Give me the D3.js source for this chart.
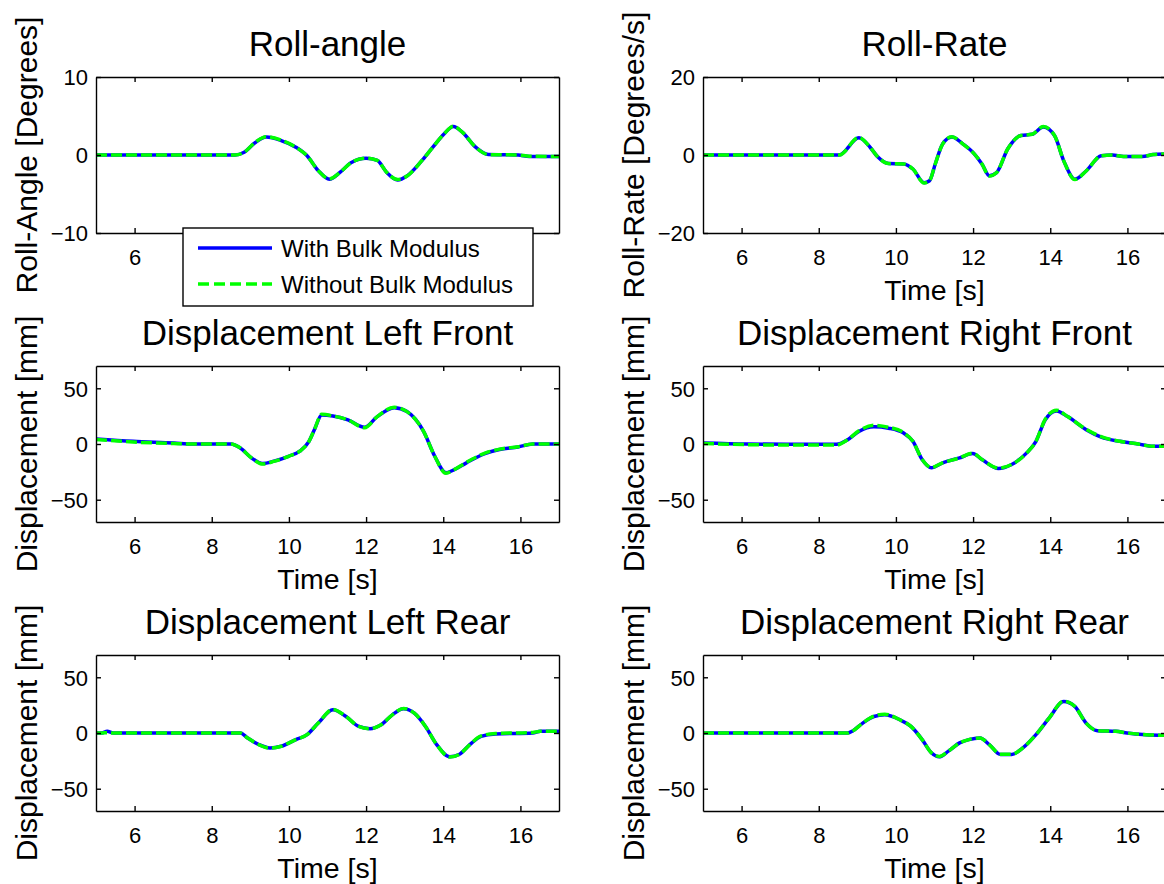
<!DOCTYPE html>
<html>
<head>
<meta charset="utf-8">
<script src="https://cdn.jsdelivr.net/npm/d3@7"></script>
<style>
  html, body { margin: 0; padding: 0; background: #fff; overflow: hidden; }
  text { font-family: "Liberation Sans", Arial, sans-serif; fill: #000; }
</style>
</head>
<body>
<svg id="fig" width="1164" height="884"></svg>
<script>
// ---- Time ticks (seconds) shared by every panel
const xTicks = [6, 8, 10, 12, 14, 16];
const xDomain = [5, 17];

// ---- Roll angle [deg]
const rollAngleTime    = [5, 8.6, 8.84, 9.13, 9.41, 9.8, 10.18, 10.47, 10.76, 11.05, 11.33, 11.62, 12.0, 12.29, 12.53, 12.82, 13.06, 13.45, 13.73, 14.02, 14.26, 14.5, 14.84, 15.17, 15.94, 16.23, 17];
const rollAngleWith    = [0, 0, 0.35, 1.6, 2.3, 1.85, 1.0, -0.1, -2.0, -3.1, -2.2, -0.95, -0.43, -0.7, -2.2, -3.2, -2.7, -0.7, 1.0, 2.7, 3.65, 2.9, 1.0, 0.05, 0, -0.2, -0.2];
const rollAngleWithout = [0, 0, 0.35, 1.65, 2.35, 1.9, 1.0, -0.1, -2.0, -3.05, -2.2, -0.95, -0.4, -0.7, -2.2, -3.15, -2.7, -0.7, 1.0, 2.7, 3.7, 2.9, 1.0, 0.05, 0, -0.15, -0.2];
const rollAngleTicks   = [-10, 0, 10];

// ---- Roll rate [deg/s]
const rollRateTime    = [5, 8.53, 9.04, 9.33, 9.52, 9.81, 10.2, 10.44, 10.73, 10.87, 11.02, 11.21, 11.45, 11.74, 12.03, 12.23, 12.42, 12.61, 12.9, 13.24, 13.53, 13.82, 14.11, 14.35, 14.64, 14.93, 15.32, 15.61, 15.9, 16.38, 16.67, 17];
const rollRateWith    = [0, 0, 4.4, 2.0, -0.4, -2.2, -2.3, -3.6, -7.1, -6.6, -2.3, 2.8, 4.6, 2.8, 0.3, -2.3, -5.3, -4.5, 1.6, 5.0, 5.3, 7.2, 5.0, -1.5, -6.2, -4.1, -0.2, 0, -0.4, -0.4, 0.1, 0.3];
const rollRateWithout = [0, 0, 4.5, 2.0, -0.4, -2.2, -2.3, -3.6, -7.2, -6.6, -2.3, 2.8, 4.7, 2.8, 0.3, -2.3, -5.4, -4.5, 1.6, 5.0, 5.3, 7.3, 5.0, -1.5, -6.3, -4.1, -0.2, 0, -0.4, -0.4, 0.1, 0.3];
const rollRateTicks   = [-20, 0, 20];

// ---- Suspension displacement [mm]
const dispTicks = [-50, 0, 50];

const leftFrontTime    = [5, 5.96, 7.02, 7.5, 8.5, 8.74, 9.03, 9.32, 9.61, 9.99, 10.28, 10.52, 10.66, 10.85, 11.14, 11.53, 11.96, 12.29, 12.73, 13.06, 13.49, 13.78, 14.07, 14.26, 14.6, 15.08, 15.46, 15.94, 16.32, 17];
const leftFrontWith    = [4.5, 2.4, 0.9, 0, 0, -3.6, -12.5, -17.5, -15.4, -11, -6.5, 2.4, 12.8, 26.1, 25.2, 21.7, 15.1, 24.6, 32.6, 29.1, 11.3, -11, -25.8, -23.4, -16.9, -8.6, -5, -2.7, 0, 0];
const leftFrontWithout = [4.0, 1.8, 0.4, 0, 0, -3.6, -12.5, -18.0, -15.6, -11, -6.5, 2.4, 12.8, 26.6, 25.2, 21.7, 14.6, 24.6, 33.0, 29.1, 11.3, -11, -26.3, -23.4, -16.4, -8.2, -4.6, -2.4, 0, 0];

const rightFrontTime    = [5, 6.14, 7.59, 8.46, 8.75, 9.04, 9.43, 9.81, 10.2, 10.44, 10.68, 10.92, 11.21, 11.65, 11.99, 12.23, 12.66, 13.0, 13.39, 13.63, 13.87, 14.16, 14.45, 14.93, 15.32, 15.8, 16.28, 16.67, 17];
const rightFrontWith    = [0.9, 0, -0.3, -0.3, 3.9, 11.3, 15.5, 14.2, 9.8, 2.4, -13.9, -21.4, -16.9, -12.5, -8.6, -13.9, -22, -18.4, -8, 2.4, 21.7, 29.7, 24.6, 12.8, 6.2, 2.4, 0, -2.1, -2.1];
const rightFrontWithout = [0.5, -0.6, -1.0, -1.0, 3.9, 11.8, 16.8, 15.0, 10.2, 2.4, -13.9, -21.0, -16.9, -12.5, -8.2, -13.9, -21.6, -18.4, -8, 2.4, 22.2, 30.4, 24.6, 13.2, 6.6, 2.4, 0, -2.1, -2.1];

const leftRearTime    = [5, 5.15, 5.29, 5.45, 8.74, 8.93, 9.22, 9.51, 9.8, 10.18, 10.47, 10.76, 11.14, 11.48, 11.81, 12.1, 12.39, 12.68, 12.97, 13.25, 13.54, 13.83, 14.17, 14.41, 14.69, 14.98, 15.36, 16.32, 16.52, 17];
const leftRearWith    = [0, 0, 1.5, 0, 0, -4.5, -10.4, -13.4, -11.9, -5.9, -1.5, 8.9, 20.8, 14.8, 5.9, 3.9, 7.4, 16.3, 21.7, 17.8, 5.9, -10.4, -21.4, -19.3, -10.4, -3, -0.9, 0, 1.5, 1.5];
const leftRearWithout = [0, 0, 0.3, 0, 0, -4.5, -10.4, -13.6, -11.9, -5.9, -1.5, 8.9, 21.2, 14.8, 5.9, 3.9, 7.4, 16.3, 22.0, 17.8, 5.9, -10.4, -21.6, -19.3, -10.4, -2.6, -0.5, 0.5, 1.5, 1.5];

const rightRearTime    = [5, 8.75, 8.89, 9.14, 9.43, 9.71, 10.1, 10.39, 10.68, 10.92, 11.12, 11.36, 11.65, 11.89, 12.18, 12.42, 12.71, 13.0, 13.29, 13.63, 13.97, 14.35, 14.64, 14.93, 15.22, 15.7, 15.99, 16.48, 17];
const rightRearWith    = [0, 0, 2.1, 8.9, 14.8, 16.3, 11.9, 5.9, -5.9, -17.8, -21.4, -16.3, -8.9, -5.9, -4.5, -10.4, -19.3, -19.3, -13.4, -1.5, 13.4, 28.2, 23.7, 8.9, 2.1, 1.5, 0, -1.5, -2.1];
const rightRearWithout = [0, 0, 2.1, 8.9, 15.2, 16.8, 11.9, 5.9, -5.9, -17.8, -21.0, -16.3, -8.9, -5.9, -4.5, -10.4, -19.0, -19.0, -13.4, -1.5, 13.4, 28.6, 23.7, 8.9, 2.1, 1.5, 0, -1.5, -2.1];

// ---- Labels
const seriesNames = ["With Bulk Modulus", "Without Bulk Modulus"];
const seriesColors = ["#0000ff", "#00ff00"];

const panels = [
  { title: "Roll-angle", yLabel: "Roll-Angle [Degrees]", yDomain: [-10, 10], yTicks: rollAngleTicks,
    time: rollAngleTime, with: rollAngleWith, without: rollAngleWithout, col: 0, row: 0 },
  { title: "Roll-Rate", yLabel: "Roll-Rate [Degrees/s]", yDomain: [-20, 20], yTicks: rollRateTicks,
    time: rollRateTime, with: rollRateWith, without: rollRateWithout, col: 1, row: 0 },
  { title: "Displacement Left Front", yLabel: "Displacement [mm]", yDomain: [-70, 70], yTicks: dispTicks,
    time: leftFrontTime, with: leftFrontWith, without: leftFrontWithout, col: 0, row: 1 },
  { title: "Displacement Right Front", yLabel: "Displacement [mm]", yDomain: [-70, 70], yTicks: dispTicks,
    time: rightFrontTime, with: rightFrontWith, without: rightFrontWithout, col: 1, row: 1 },
  { title: "Displacement Left Rear", yLabel: "Displacement [mm]", yDomain: [-70, 70], yTicks: dispTicks,
    time: leftRearTime, with: leftRearWith, without: leftRearWithout, col: 0, row: 2 },
  { title: "Displacement Right Rear", yLabel: "Displacement [mm]", yDomain: [-70, 70], yTicks: dispTicks,
    time: rightRearTime, with: rightRearWith, without: rightRearWithout, col: 1, row: 2 }
];

// ---- Layout of the 3x2 subplot grid
const colLeft = [96, 703];
const rowTop = [77, 366, 655];
const plotW = 463, plotH = 156;
const tickLen = 5;

// Legend box (sits over the lower part of the roll-angle axes)
const legendBox = { x: 183, y: 228, w: 350, h: 78 };

const svg = d3.select("#fig");
const font = '"Liberation Sans", Arial, sans-serif';

panels.forEach((p, i) => {
  const x0 = colLeft[p.col], y0 = rowTop[p.row];
  const g = svg.append("g").attr("transform", `translate(${x0},${y0})`);
  const x = d3.scaleLinear().domain(xDomain).range([0, plotW]);
  const y = d3.scaleLinear().domain(p.yDomain).range([plotH, 0]);

  const clipId = "clip" + i;
  g.append("clipPath").attr("id", clipId)
    .append("rect").attr("width", plotW).attr("height", plotH);

  // traces: solid blue first, dashed green on top
  const line = d3.line().x(d => x(d[0])).y(d => y(d[1])).curve(d3.curveMonotoneX);
  const withPts = p.time.map((t, k) => [t, p.with[k]]);
  const withoutPts = p.time.map((t, k) => [t, p.without[k]]);
  const traces = g.append("g").attr("clip-path", `url(#${clipId})`);
  traces.append("path").datum(withPts).attr("d", line)
    .attr("fill", "none").attr("stroke", seriesColors[0]).attr("stroke-width", 3.5)
    .attr("stroke-linejoin", "round");
  traces.append("path").datum(withoutPts).attr("d", line)
    .attr("fill", "none").attr("stroke", seriesColors[1]).attr("stroke-width", 3.5)
    .attr("stroke-dasharray", "11,4");

  // axes with inward ticks on all four sides
  const axB = d3.axisBottom(x).tickValues(xTicks).tickSizeInner(-tickLen).tickSizeOuter(0).tickPadding(12);
  const axT = d3.axisTop(x).tickValues(xTicks).tickSizeInner(-tickLen).tickSizeOuter(0).tickFormat("");
  const axL = d3.axisLeft(y).tickValues(p.yTicks).tickSizeInner(-tickLen).tickSizeOuter(0).tickPadding(12);
  const axR = d3.axisRight(y).tickValues(p.yTicks).tickSizeInner(-tickLen).tickSizeOuter(0).tickFormat("");

  const gb = g.append("g").attr("transform", `translate(0,${plotH})`).call(axB);
  g.append("g").call(axT);
  const gl = g.append("g").call(axL);
  g.append("g").attr("transform", `translate(${plotW},0)`).call(axR);

  g.selectAll(".domain").attr("stroke", "#000").attr("stroke-width", 1.4);
  g.selectAll(".tick line").attr("stroke", "#000").attr("stroke-width", 1.4);
  gb.selectAll(".tick text").attr("font-family", font).attr("font-size", 22).attr("fill", "#000")
    .attr("y", 13).attr("dy", "0.85em");
  gl.selectAll(".tick text").attr("font-family", font).attr("font-size", 22).attr("fill", "#000")
    .attr("x", -8).attr("dy", "0.36em");

  // title
  g.append("text").attr("x", plotW / 2).attr("y", -21)
    .attr("text-anchor", "middle").attr("font-size", 35).text(p.title);
  // x label
  g.append("text").attr("class", "xlabel").attr("x", plotW / 2).attr("y", plotH + 67)
    .attr("text-anchor", "middle").attr("font-size", 28.5).text("Time [s]");
  // y label
  g.append("text").attr("transform", `translate(-59,${plotH / 2}) rotate(-90)`)
    .attr("text-anchor", "middle").attr("font-size", 30).text(p.yLabel);

  // labels fully hidden behind the opaque legend box are not drawn
  if (i === 0) {
    g.selectAll("text").each(function () {
      const b = this.getBBox();
      const m = this.getCTM();
      const left = m.e + b.x, top = m.f + b.y;
      const inside = left >= legendBox.x - 2 && left + b.width <= legendBox.x + legendBox.w + 2 &&
                     top + b.height > legendBox.y && top < legendBox.y + legendBox.h + 4;
      if (inside && !this.closest("[transform*='rotate']")) d3.select(this).remove();
    });
  }
});

// ---- Legend
const lg = svg.append("g").attr("transform", `translate(${legendBox.x},${legendBox.y})`);
lg.append("rect").attr("width", legendBox.w).attr("height", legendBox.h)
  .attr("fill", "#fff").attr("stroke", "#000").attr("stroke-width", 1.4);
seriesNames.forEach((name, k) => {
  const cy = 20 + k * 36;
  lg.append("line").attr("x1", 15).attr("x2", 89).attr("y1", cy).attr("y2", cy)
    .attr("stroke", seriesColors[k]).attr("stroke-width", 3.5)
    .attr("stroke-dasharray", k === 1 ? "11,5" : null);
  lg.append("text").attr("x", 98).attr("y", cy).attr("dy", "0.36em")
    .attr("font-size", 24).text(name);
});
</script>
</body>
</html>
